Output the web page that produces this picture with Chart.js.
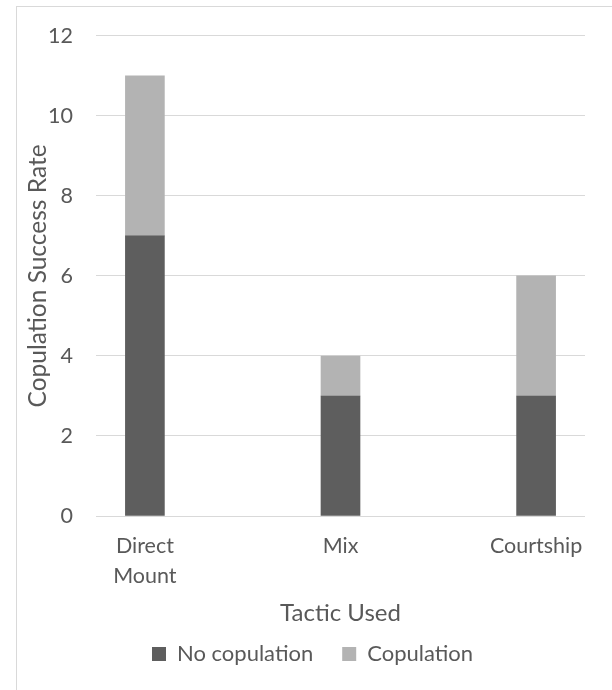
<!DOCTYPE html>
<html>
<head>
<meta charset="utf-8">
<script src="https://cdn.jsdelivr.net/npm/chart.js@4/dist/chart.umd.min.js"></script>
<style>
    body { margin: 0; background: #fff; }
    .frame { position: absolute; left: 16px; top: 6px; width: 700px; height: 800px; border: 1px solid #d9d9d9; }
    .wrap { position: absolute; left: 0; top: 0; width: 612px; height: 690px; }
</style>
</head>
<body>
<div class="frame"></div>
<div class="wrap"><canvas id="barChart"></canvas></div>
<script>
// tactics, stacked counts
const tactics = [['Direct', 'Mount'], 'Mix', 'Courtship'];
const noCopulation = [7, 3, 3];
const copulation = [4, 1, 3];
const yMin = 0, yMax = 12, yStep = 2;

const textColor = '#595959';
const font = 'Lato, "Open Sans", sans-serif';

const toPoints = arr => arr.map((v, i) => ({ x: i, y: v }));

const ctx = document.getElementById('barChart').getContext('2d');
new Chart(ctx, {
    type: 'bar',
    data: {
        datasets: [
            {
                label: 'No copulation',
                data: toPoints(noCopulation),
                backgroundColor: '#5e5e5e',
                borderWidth: 0,
                barThickness: 39
            },
            {
                label: 'Copulation',
                data: toPoints(copulation),
                backgroundColor: '#b3b3b3',
                borderWidth: 0,
                barThickness: 39
            }
        ]
    },
    options: {
        responsive: true,
        maintainAspectRatio: false,
        animation: false,
        layout: { padding: { left: 40, right: 27, top: 35, bottom: 15 } },
        plugins: {
            tooltip: { enabled: false },
            legend: {
                position: 'bottom',
                labels: {
                    boxWidth: 14,
                    boxHeight: 14,
                    padding: 29,
                    color: textColor,
                    font: { family: font, size: 22 }
                }
            }
        },
        scales: {
            x: {
                type: 'linear',
                stacked: true,
                offset: false,
                min: -0.25,
                max: 2.25,
                grid: { display: false, offset: false },
                border: { display: false },
                afterBuildTicks: axis => { axis.ticks = tactics.map((t, i) => ({ value: i })); },
                afterFit: axis => { axis.height = 98; },
                ticks: {
                    padding: 7,
                    maxRotation: 0,
                    color: textColor,
                    font: { family: font, size: 21.5, lineHeight: 1.4 },
                    callback: v => tactics[v]
                },
                title: {
                    display: true,
                    text: 'Tactic Used',
                    padding: { top: 0, bottom: -14 },
                    color: textColor,
                    font: { family: font, size: 24 }
                }
            },
            y: {
                stacked: true,
                min: yMin,
                max: yMax,
                border: { display: false },
                grid: { color: '#d9d9d9', lineWidth: 1, drawTicks: false },
                afterFit: axis => { axis.width = 56; },
                ticks: {
                    stepSize: yStep,
                    padding: 23,
                    color: textColor,
                    font: { family: font, size: 21.5 }
                },
                title: {
                    display: true,
                    text: 'Copulation Success Rate',
                    padding: { top: -17, bottom: 0 },
                    color: textColor,
                    font: { family: font, size: 24.5 }
                }
            }
        }
    }
});
</script>
</body>
</html>
